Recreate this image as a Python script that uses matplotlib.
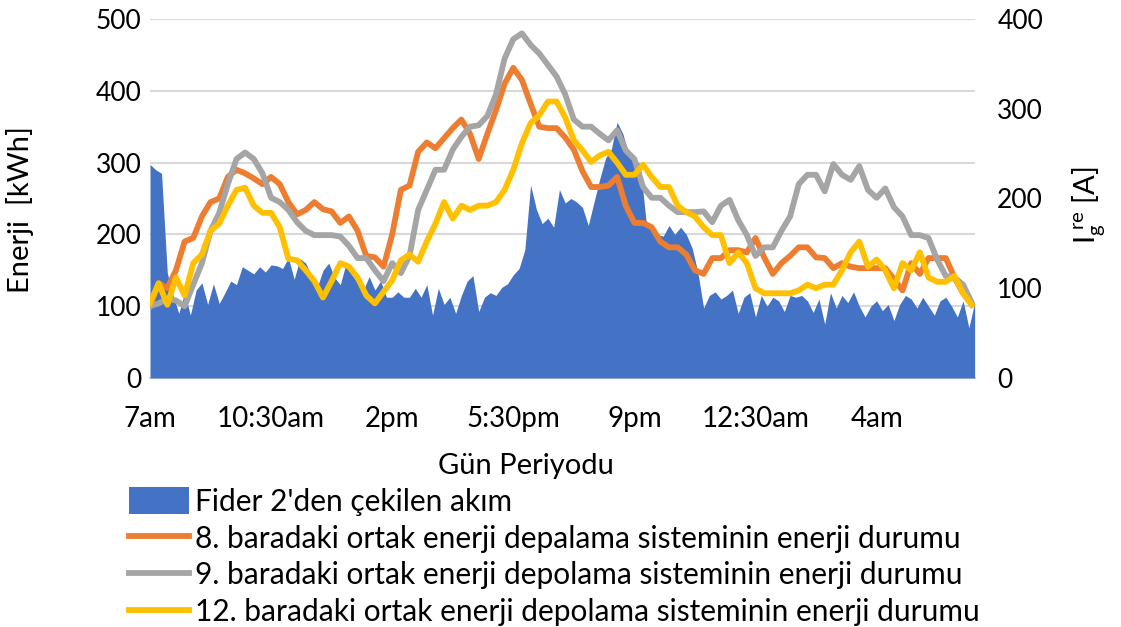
import numpy as np
import matplotlib
matplotlib.use("Agg")
import matplotlib.pyplot as plt

plt.rcParams['font.family'] = ['Lato', 'DejaVu Sans']
plt.rcParams['mathtext.fontset'] = 'custom'
plt.rcParams['mathtext.rm'] = 'Lato'
plt.rcParams['mathtext.it'] = 'Lato'

# time axis (hours after midnight, day 1 7am -> next morning)
tick_hours = [7, 10.5, 14, 17.5, 21, 24.5, 28]
tick_labels = ['7am', '10:30am', '2pm', '5:30pm', '9pm', '12:30am', '4am']

# energy state of the storage systems, 15 min steps from 7:00 (kWh)
bus8 = [100, 132, 125, 150, 190, 195, 225, 245, 250, 280, 290, 285, 278, 270, 280, 270,
        245, 228, 234, 245, 235, 232, 216, 225, 205, 170, 168, 155, 200, 262, 268, 315,
        328, 320, 334, 348, 360, 340, 305, 340, 373, 410, 432, 415, 382, 350, 348, 348,
        335, 318, 288, 266, 266, 268, 280, 240, 216, 216, 210, 190, 182, 182, 172, 150,
        145, 167, 167, 178, 178, 175, 195, 168, 145, 160, 170, 182, 182, 168, 167, 153,
        160, 155, 153, 153, 153, 153, 138, 122, 160, 145, 167, 167, 167, 140, 118, 102]
bus9 = [100, 104, 110, 108, 100, 130, 160, 205, 230, 270, 305, 314, 305, 285, 251, 245,
        234, 217, 205, 199, 199, 199, 197, 184, 167, 167, 150, 135, 160, 146, 170, 234,
        262, 290, 290, 318, 336, 350, 352, 365, 395, 445, 472, 480, 464, 452, 436, 420,
        395, 360, 350, 350, 340, 331, 345, 317, 305, 266, 251, 251, 240, 231, 231, 231,
        232, 217, 240, 248, 220, 199, 170, 182, 182, 205, 225, 270, 283, 283, 260, 298,
        283, 276, 295, 262, 251, 264, 238, 225, 199, 199, 195, 165, 142, 140, 130, 105]
bus12 = [104, 132, 102, 140, 115, 160, 172, 205, 215, 240, 262, 265, 240, 230, 230, 210,
         166, 164, 150, 135, 112, 135, 160, 155, 140, 115, 104, 120, 136, 164, 172, 162,
         190, 215, 245, 222, 240, 234, 240, 240, 245, 262, 290, 327, 355, 366, 385, 385,
         363, 331, 317, 301, 310, 315, 300, 283, 283, 297, 280, 266, 266, 240, 231, 225,
         210, 199, 199, 160, 175, 160, 125, 118, 118, 118, 118, 122, 130, 125, 130, 130,
         150, 175, 190, 155, 165, 150, 125, 160, 150, 175, 140, 134, 134, 142, 118, 102]

# current drawn from feeder 2, 10 min steps from 7:00 (A)
feeder2 = [238, 232, 228, 117, 92, 72, 95, 70, 98, 106, 82, 105, 83, 95, 108, 104,
           124, 120, 116, 124, 118, 126, 125, 122, 134, 110, 133, 128, 114, 101, 120, 128,
           112, 104, 128, 115, 106, 98, 113, 98, 108, 90, 90, 96, 90, 90, 100, 90,
           104, 70, 100, 82, 90, 72, 92, 108, 114, 74, 90, 95, 92, 101, 105, 115,
           122, 143, 215, 188, 172, 178, 168, 210, 195, 200, 196, 190, 170, 196, 222, 245,
           255, 285, 272, 250, 244, 238, 176, 165, 160, 158, 170, 160, 168, 160, 145, 118,
           78, 92, 96, 88, 92, 98, 72, 90, 95, 68, 92, 80, 90, 86, 74, 92,
           90, 92, 86, 73, 88, 60, 95, 78, 92, 84, 96, 80, 68, 80, 86, 75,
           82, 64, 82, 92, 88, 78, 90, 80, 70, 86, 90, 80, 68, 86, 56, 84]

t_lines = 7 + np.arange(len(bus8)) * 0.25
t_feed = 7 + np.arange(len(feeder2)) / 6

fig = plt.figure(figsize=(11.21, 6.27), dpi=100)
ax = fig.add_axes([150 / 1121, 1 - 378 / 627, 825 / 1121, 359 / 627])
ax_cur = ax.twinx()
ax_line = ax.twinx()

ax.set_ylim(0, 500)
ax.set_yticks(range(0, 501, 100))
ax.grid(axis='y', color='#d9d9d9', linewidth=1.5)
ax.set_axisbelow(True)

area = ax_cur.fill_between(t_feed, feeder2, color='#4472c4', linewidth=0,
                           label="Fider 2'den çekilen akım")
ax_cur.set_ylim(0, 400)
ax_cur.set_yticks(range(0, 401, 100))

l8, = ax_line.plot(t_lines, bus8, color='#ed7d31', lw=4.2, solid_joinstyle='round',
                   label='8. baradaki ortak enerji depalama sisteminin enerji durumu')
l9, = ax_line.plot(t_lines, bus9, color='#a5a5a5', lw=4.2, solid_joinstyle='round',
                   label='9. baradaki ortak enerji depolama sisteminin enerji durumu')
l12, = ax_line.plot(t_lines, bus12, color='#ffc000', lw=4.2, solid_joinstyle='round',
                    label='12. baradaki ortak enerji depolama sisteminin enerji durumu')
ax_line.set_ylim(0, 500)
ax_line.set_yticks([])

ax.set_xlim(7, 7 + 825 / 34.6)
ax.set_xticks(tick_hours)
ax.set_xticklabels(tick_labels)

for a in (ax, ax_cur, ax_line):
    for s in a.spines.values():
        s.set_visible(False)
    a.tick_params(length=0, labelsize=19, colors='black')
ax.tick_params(axis='x', labelsize=20, pad=20)
ax.spines['bottom'].set_visible(True)
ax.spines['bottom'].set_color('#d9d9d9')
ax.spines['bottom'].set_linewidth(1.5)
ax.tick_params(axis='y', pad=6)
ax_cur.tick_params(axis='y', pad=16)

ax.set_xlabel('Gün Periyodu', fontsize=21)
ax.xaxis.set_label_coords(0.456, -0.21)
ax.set_ylabel('Enerji  [kWh]', fontsize=21)
ax.yaxis.set_label_coords(-0.14, 0.47)
ax_cur.set_ylabel(r'$\mathregular{I_g^{\ re}}$ [A]', fontsize=21, rotation=90)
ax_cur.yaxis.set_label_coords(1.115, 0.48)

fig.legend(handles=[area, l8, l9, l12], loc='upper left',
           bbox_to_anchor=(129 / 1121, 1 - 487 / 627), frameon=False,
           fontsize=21.5, handlelength=2.0, handleheight=1.0, handletextpad=0.2,
           labelspacing=0.28, borderaxespad=0, borderpad=0)

fig.savefig('out.png', dpi=100)
